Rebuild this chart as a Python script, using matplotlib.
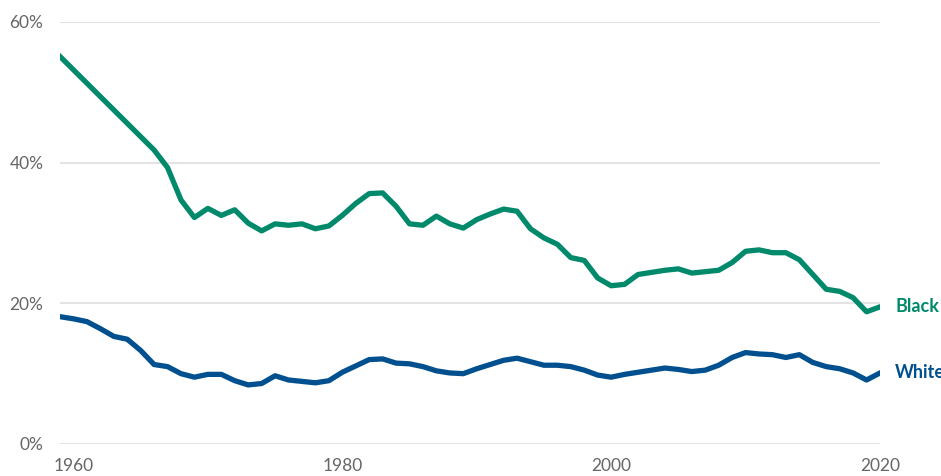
import matplotlib.pyplot as plt

# poverty rate by race, 1959-2020 (Black series has a gap 1960-1965)
years_black = [1959] + list(range(1966, 2021))
black = [55.1,
         41.8, 39.3, 34.7, 32.2, 33.5, 32.5, 33.3, 31.4, 30.3, 31.3,
         31.1, 31.3, 30.6, 31.0, 32.5, 34.2, 35.6, 35.7, 33.8, 31.3,
         31.1, 32.4, 31.3, 30.7, 31.9, 32.7, 33.4, 33.1, 30.6, 29.3,
         28.4, 26.5, 26.1, 23.6, 22.5, 22.7, 24.1, 24.4, 24.7, 24.9,
         24.3, 24.5, 24.7, 25.8, 27.4, 27.6, 27.2, 27.2, 26.2, 24.1,
         22.0, 21.7, 20.8, 18.8, 19.5]

years_white = list(range(1959, 2021))
white = [18.1, 17.8, 17.4, 16.4, 15.3, 14.9, 13.3, 11.3, 11.0, 10.0,
         9.5, 9.9, 9.9, 9.0, 8.4, 8.6, 9.7, 9.1, 8.9, 8.7,
         9.0, 10.2, 11.1, 12.0, 12.1, 11.5, 11.4, 11.0, 10.4, 10.1,
         10.0, 10.7, 11.3, 11.9, 12.2, 11.7, 11.2, 11.2, 11.0, 10.5,
         9.8, 9.5, 9.9, 10.2, 10.5, 10.8, 10.6, 10.3, 10.5, 11.2,
         12.3, 13.0, 12.8, 12.7, 12.3, 12.7, 11.6, 11.0, 10.7, 10.1,
         9.1, 10.1]

x_ticks = [1960, 1980, 2000, 2020]
y_ticks = [0, 20, 40, 60]

GREEN = "#00896a"
BLUE = "#00508f"

plt.rcParams['font.family'] = ['Lato', 'DejaVu Sans']

fig = plt.figure(figsize=(9.41, 4.76), dpi=100)
ax = fig.add_axes([60 / 941, 32 / 476, 820 / 941, 422 / 476])

ax.plot(years_black, black, color=GREEN, lw=3.8, solid_joinstyle='round', zorder=3)
ax.plot(years_white, white, color=BLUE, lw=3.8, solid_joinstyle='round', zorder=3)

ax.annotate("Black", (years_black[-1], black[-1]), xytext=(11, 0), textcoords='offset points',
            color=GREEN, fontsize=13, fontweight='bold', va='center', ha='left', annotation_clip=False)
ax.annotate("White", (years_white[-1], white[-1]), xytext=(11, 0), textcoords='offset points',
            color=BLUE, fontsize=13, fontweight='bold', va='center', ha='left', annotation_clip=False)

ax.set_xlim(1959, 2020)
ax.set_ylim(0, 60)
ax.set_xticks(x_ticks)
ax.set_yticks(y_ticks)
ax.set_yticklabels([f"{v}%" for v in y_ticks])
ax.tick_params(length=0, labelsize=12.5, labelcolor="#666666")
ax.tick_params(axis='y', pad=12)
ax.tick_params(axis='x', pad=10)
ax.grid(axis='y', color="#e3e3e3", lw=1.5)
ax.set_axisbelow(True)
for s in ax.spines.values():
    s.set_visible(False)

fig.savefig("out.png", dpi=100)
